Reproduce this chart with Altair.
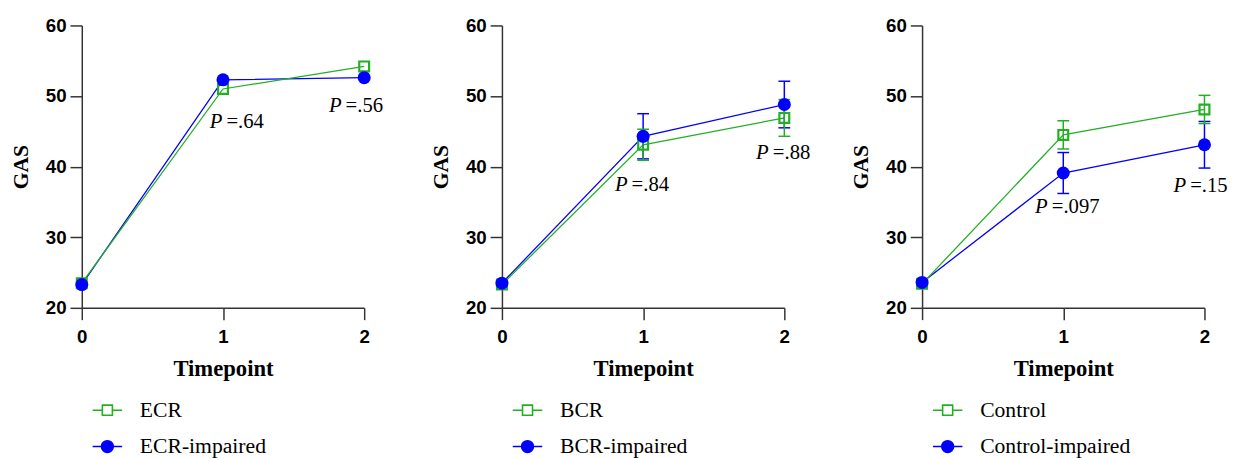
import altair as alt
import pandas as pd

# ---------------- data ----------------
timepoints = [0, 1, 2]

names_ecr = ["ECR", "ECR-impaired"]
names_bcr = ["BCR", "BCR-impaired"]
names_ctl = ["Control", "Control-impaired"]

ecr_mean = [23.5, 51.0, 54.2]
ecr_err = [0.0, 0.0, 0.0]
ecr_imp_mean = [23.3, 52.3, 52.6]
ecr_imp_err = [0.0, 0.0, 0.0]

bcr_mean = [23.3, 43.1, 46.9]
bcr_err = [0.0, 2.2, 2.6]
bcr_imp_mean = [23.5, 44.3, 48.8]
bcr_imp_err = [0.0, 3.2, 3.3]

ctl_mean = [23.4, 44.5, 48.1]
ctl_err = [0.0, 2.0, 2.0]
ctl_imp_mean = [23.6, 39.1, 43.1]
ctl_imp_err = [0.0, 2.9, 3.3]

p_ecr = [".64", ".56"]
p_bcr = [".84", ".88"]
p_ctl = [".097", ".15"]
# annotation anchor (data units)
p_ecr_x, p_ecr_y = [0.906, 1.75], [46.3, 48.6]
p_bcr_x, p_bcr_y = [0.80, 1.80], [37.4, 41.9]
p_ctl_x, p_ctl_y = [0.80, 1.78], [34.2, 37.2]

y_ticks = [20, 30, 40, 50, 60]

GREEN = "#22b022"
BLUE = "#0000ff"
SERIF = "Liberation Serif"
SANS = "Liberation Sans"

SQ_PATH = "M-2.5,0H-0.85M0.85,0H2.5M-0.85,-0.85H0.85V0.85H-0.85Z"
CI_PATH = "M-2.5,0H-1A1,1 0 1,1 1,0H2.5ZM1,0A1,1 0 1,1 -1,0Z"


def make_panel(names, m_a, e_a, m_b, e_b, pv, px, py):
    rows = []
    for name, m, e in ((names[0], m_a, e_a), (names[1], m_b, e_b)):
        for t, v, s in zip(timepoints, m, e):
            rows.append({"t": t, "group": name, "mean": v,
                         "lo": v - s, "hi": v + s, "err": s})
    df = pd.DataFrame(rows)
    ann = pd.DataFrame({"x": px, "y": py, "label": ["=" + v for v in pv]})

    x = alt.X("t:Q", scale=alt.Scale(domain=[0, 2], nice=False, zero=False),
              axis=alt.Axis(values=list(timepoints), tickCount=5,
                            labelExpr="format(datum.value, 'd')",
                            title="Timepoint", labelOverlap=False, labelFlush=False))
    y = alt.Y("mean:Q", scale=alt.Scale(domain=[20, 60], nice=False, zero=False),
              axis=alt.Axis(values=y_ticks, tickCount=8,
                            labelExpr="format(datum.value, 'd')", title="GAS",
                            labelOverlap=False))

    base = alt.Chart(df)
    layers = []
    cols = {names[0]: GREEN, names[1]: BLUE}

    # legend-only layer (invisible marks)
    legend = alt.Legend(
        title=None, orient="none", legendX=15, legendY=380,
        labelFont=SERIF, labelFontSize=22, labelColor="black",
        symbolSize=144, labelOffset=22, rowPadding=15, padding=0,
        symbolStrokeWidth=1.6, symbolOpacity=1,
    )
    layers.append(base.mark_point(opacity=0).encode(
        x=x, y=y,
        color=alt.Color("group:N", scale=alt.Scale(domain=names, range=[GREEN, BLUE]),
                        legend=legend),
        fill=alt.Fill("group:N", scale=alt.Scale(domain=names, range=["transparent", BLUE]),
                      legend=legend),
        shape=alt.Shape("group:N", scale=alt.Scale(domain=names, range=[SQ_PATH, CI_PATH]),
                        legend=legend),
    ))

    for g in [names[1], names[0]]:
        c = cols[g]
        sub = base.transform_filter(alt.datum.group == g)
        layers.append(sub.mark_line(strokeWidth=1.3, color=c).encode(x=x, y=y))
    for g in [names[1], names[0]]:
        c = cols[g]
        sub = base.transform_filter((alt.datum.group == g) & (alt.datum.err > 0))
        layers.append(sub.mark_rule(strokeWidth=1.5, color=c).encode(
            x=x, y=alt.Y("lo:Q"), y2="hi:Q"))
        layers.append(sub.mark_tick(orient="horizontal", size=12, thickness=1.5,
                                    color=c, opacity=1).encode(x=x, y=alt.Y("lo:Q")))
        layers.append(sub.mark_tick(orient="horizontal", size=12, thickness=1.5,
                                    color=c, opacity=1).encode(x=x, y=alt.Y("hi:Q")))

    # visible markers
    layers.append(base.transform_filter(alt.datum.group == names[0]).mark_point(
        shape="square", size=100, filled=False, strokeWidth=2.2, color=GREEN, opacity=1
    ).encode(x=x, y=y))
    layers.append(base.transform_filter(alt.datum.group == names[1]).mark_point(
        shape="circle", size=175, filled=True, color=BLUE, opacity=1
    ).encode(x=x, y=y))

    annb = alt.Chart(ann)
    layers.append(annb.mark_text(text="P", font=SERIF, fontStyle="italic", fontSize=21,
                                 align="left", baseline="middle", color="black").encode(
        x=alt.X("x:Q"), y=alt.Y("y:Q")))
    layers.append(annb.mark_text(font=SERIF, fontSize=21, align="left", baseline="middle",
                                 dx=17, color="black").encode(
        x=alt.X("x:Q"), y=alt.Y("y:Q"), text="label:N"))

    return alt.layer(*layers).properties(width=287, height=287)


p1 = make_panel(names_ecr, ecr_mean, ecr_err, ecr_imp_mean, ecr_imp_err, p_ecr, p_ecr_x, p_ecr_y)
p2 = make_panel(names_bcr, bcr_mean, bcr_err, bcr_imp_mean, bcr_imp_err, p_bcr, p_bcr_x, p_bcr_y)
p3 = make_panel(names_ctl, ctl_mean, ctl_err, ctl_imp_mean, ctl_imp_err, p_ctl, p_ctl_x, p_ctl_y)

chart = alt.hconcat(p1, p2, p3, spacing=140, bounds="flush").resolve_scale(
    color="independent", fill="independent", shape="independent"
).properties(
    padding={"left": 1, "top": 5, "right": 5, "bottom": 5},
    background="white",
).configure_view(stroke=None).configure_axis(
    grid=False,
    domainColor="#333333", domainWidth=1.5,
    tickColor="#333333", tickWidth=1.5, tickSize=12,
    labelFont=SANS, labelFontWeight="bold", labelFontSize=19, labelColor="black",
    titleFont=SERIF, titleFontWeight="bold", titleFontSize=22, titleColor="black",
).configure_axisX(
    labelPadding=8, titlePadding=12, titleFontSize=23,
).configure_axisY(
    labelPadding=4, titlePadding=13,
)

chart.save("out.html", embed_options={"renderer": "svg", "actions": False})
